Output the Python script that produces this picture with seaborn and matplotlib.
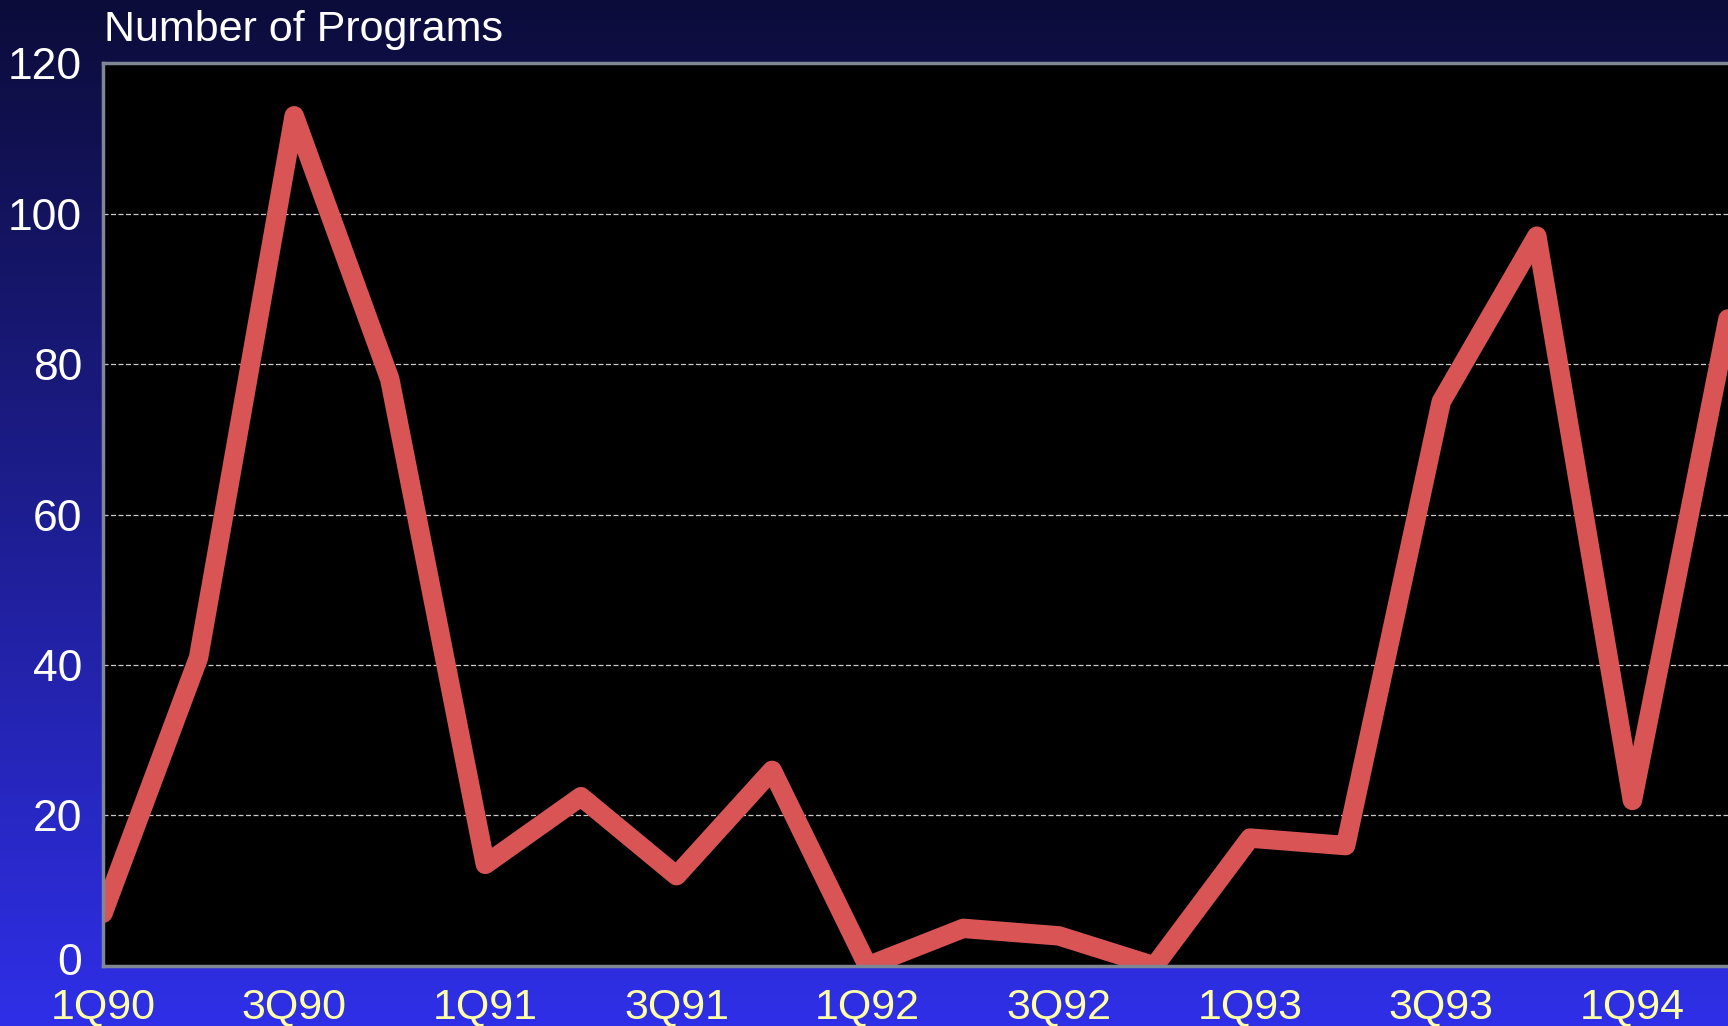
import numpy as np
import pandas as pd
import matplotlib
matplotlib.use("Agg")
import matplotlib.pyplot as plt
import matplotlib.transforms as mtransforms
import seaborn as sns

# Quarterly program counts, 1Q90 through 2Q94
quarters = ["1Q90", "2Q90", "3Q90", "4Q90",
            "1Q91", "2Q91", "3Q91", "4Q91",
            "1Q92", "2Q92", "3Q92", "4Q92",
            "1Q93", "2Q93", "3Q93", "4Q93",
            "1Q94", "2Q94"]
programs = [7, 41, 113, 78,
            13.5, 22.5, 12, 26,
            0, 5, 4, 0,
            17, 16, 75, 97,
            22, 86]
y_ticks = [0, 20, 40, 60, 80, 100, 120]

df = pd.DataFrame({"idx": np.arange(len(quarters)), "quarter": quarters, "programs": programs})

sns.set_theme(style="dark")
plt.rcParams["font.family"] = ["Liberation Sans", "DejaVu Sans"]

fig = plt.figure(figsize=(17.28, 10.26), dpi=100)

# vertical navy-to-blue gradient behind everything
bg = fig.add_axes([0, 0, 1, 1], zorder=0)
grad = np.linspace(0, 1, 256).reshape(-1, 1)
top = np.array([12, 12, 58]) / 255
bottom = np.array([47, 47, 232]) / 255
img = top[None, None, :] * (1 - grad[..., None]) + bottom[None, None, :] * grad[..., None]
bg.imshow(img, aspect="auto", extent=[0, 1, 0, 1])
bg.axis("off")

ax = fig.add_axes([0.0596, 0.0585, 0.9404, 0.880], zorder=1)
ax.set_facecolor("black")

sns.lineplot(data=df, x="idx", y="programs", ax=ax, color="#D95555",
             linewidth=14, solid_joinstyle="round", solid_capstyle="round")

ax.set_xlim(0, len(quarters) - 1)
ax.set_ylim(0, 120)
ax.set_yticks(y_ticks)
ax.set_yticklabels([str(v) for v in y_ticks], color="white", fontsize=32)
ax.set_xticks(df["idx"][::2])
ax.set_xticklabels(df["quarter"][::2], color="#FFFFA8", fontsize=31)
ax.tick_params(axis="y", length=0, pad=15)
ax.tick_params(axis="x", length=0, pad=15)
# lift the bottom "0" slightly so it clears the first quarter label
zero_lbl = ax.get_yticklabels()[0]
zero_lbl.set_verticalalignment("center")
zero_lbl.set_transform(zero_lbl.get_transform() +
                       mtransforms.ScaledTranslation(0, 2 / 72, fig.dpi_scale_trans))
ax.set_xlabel("")
ax.set_ylabel("")

ax.grid(False)
for v in y_ticks[1:-1]:
    ax.axhline(v, color="#C8C8C8", linewidth=0.9, linestyle=(0, (4, 2)), zorder=0.5)

for side in ["left", "top", "bottom"]:
    ax.spines[side].set_visible(True)
    ax.spines[side].set_color("#7F8794")
    ax.spines[side].set_linewidth(2.5)
ax.spines["right"].set_visible(False)

fig.text(0.0602, 0.990, "Number of Programs", color="white", fontsize=31,
         ha="left", va="top")

fig.savefig("out.png", dpi=100)
